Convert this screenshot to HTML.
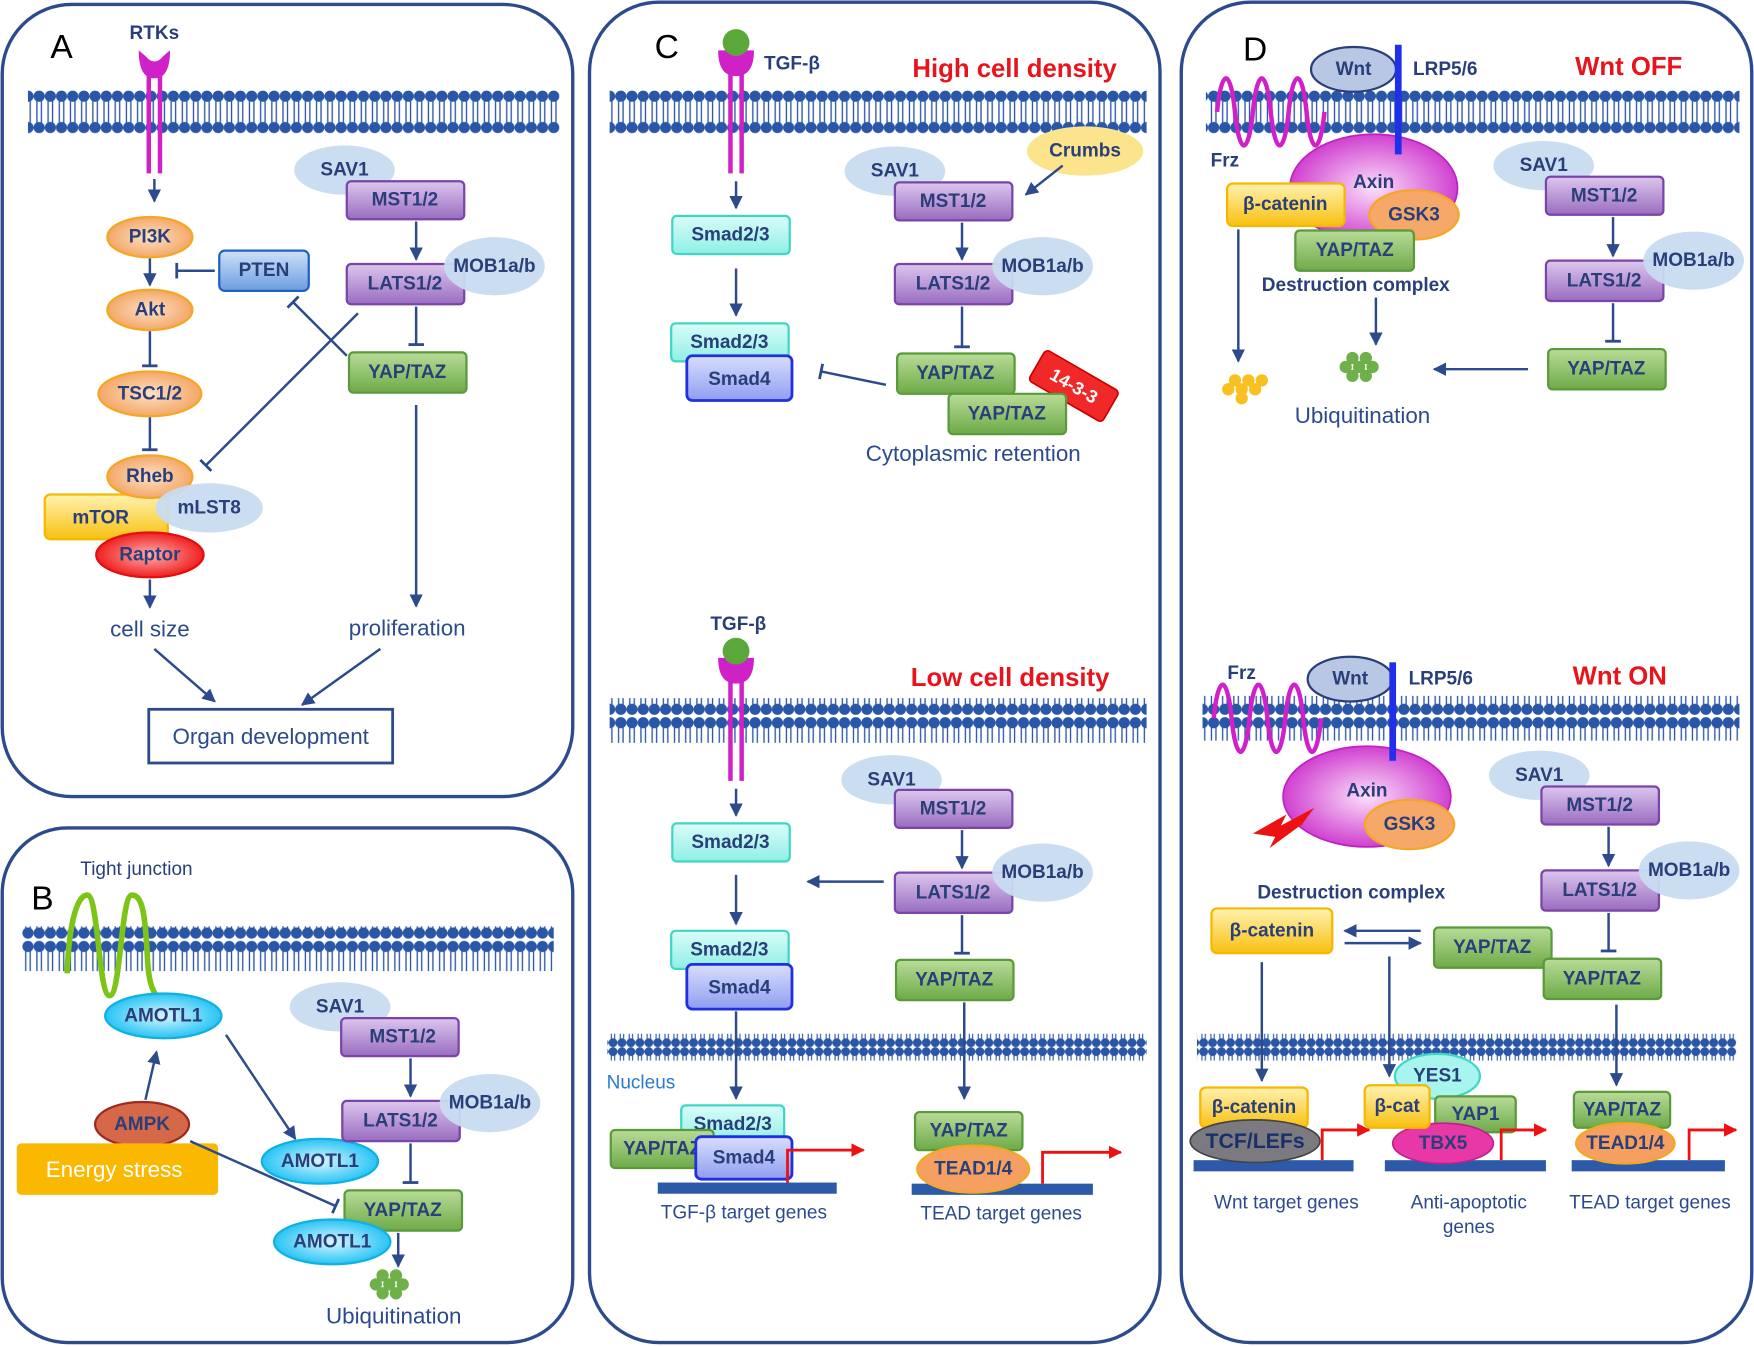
<!DOCTYPE html>
<html><head><meta charset="utf-8"><style>
html,body{margin:0;padding:0;background:#fff}
svg{display:block}
text{font-family:"Liberation Sans",sans-serif}
.b{font-weight:bold;font-size:17px;fill:#2a3f7a;text-anchor:middle;dominant-baseline:central}
.t{font-size:20px;fill:#2c4a8c;text-anchor:middle}
.r{font-size:23px;font-weight:bold;fill:#e8141c;text-anchor:middle}
.pl{font-size:30px;fill:#000;text-anchor:middle}
.ln{stroke:#2c4a8c;stroke-width:2.2;fill:none}
.pn{fill:none;stroke:#2c4a8c;stroke-width:3}
.pu{fill:url(#gpu);stroke:#7a45a8;stroke-width:2}
.gr{fill:url(#ggr);stroke:#5a9a3a;stroke-width:2}
.lb{fill:#c8dbf0;opacity:.95}
.or{fill:url(#gor);stroke:#f5a623;stroke-width:2}
.cy{fill:url(#gcy);stroke:#3fd6c6;stroke-width:2}
.sm4{fill:url(#gsm);stroke:#2030e0;stroke-width:2.5}
.ye{fill:url(#gye);stroke:#f5b800;stroke-width:2}
.re{fill:url(#gre);stroke:#e01010;stroke-width:2}
.mg{fill:url(#gmg);stroke:#c020c0;stroke-width:1.5}
.ac{fill:url(#gac);stroke:#10b0e0;stroke-width:2}
.red{stroke:#ee1111;stroke-width:2.5;fill:none}
.dna{fill:#2d5aa8}
</style></head><body>
<svg width="1754" height="1347" viewBox="0 0 1568 1204" preserveAspectRatio="none" xmlns="http://www.w3.org/2000/svg">
<defs>
<linearGradient id="gpu" x1="0" y1="0" x2="0" y2="1"><stop offset="0" stop-color="#dcc6ee"/><stop offset="1" stop-color="#9a6cc0"/></linearGradient>
<linearGradient id="ggr" x1="0" y1="0" x2="0" y2="1"><stop offset="0" stop-color="#b8dc98"/><stop offset="1" stop-color="#6eaa48"/></linearGradient>
<radialGradient id="gor"><stop offset="0" stop-color="#fde0c6"/><stop offset="1" stop-color="#f3a868"/></radialGradient>
<linearGradient id="gcy" x1="0" y1="0" x2="0" y2="1"><stop offset="0" stop-color="#dafcf8"/><stop offset="1" stop-color="#8ef0e6"/></linearGradient>
<linearGradient id="gsm" x1="0" y1="0" x2="0" y2="1"><stop offset="0" stop-color="#d8defc"/><stop offset="1" stop-color="#8f9ef0"/></linearGradient>
<linearGradient id="gye" x1="0" y1="0" x2="0" y2="1"><stop offset="0" stop-color="#fff2b0"/><stop offset="1" stop-color="#f8c010"/></linearGradient>
<radialGradient id="gre"><stop offset="0" stop-color="#ffb0b0"/><stop offset="1" stop-color="#f02020"/></radialGradient>
<radialGradient id="gmg"><stop offset="0" stop-color="#fbe0fb"/><stop offset="1" stop-color="#d040d0"/></radialGradient>
<radialGradient id="gac"><stop offset="0" stop-color="#d8f6ff"/><stop offset="1" stop-color="#28c4f4"/></radialGradient>
<linearGradient id="gpt" x1="0" y1="0" x2="0" y2="1"><stop offset="0" stop-color="#cfe0f8"/><stop offset="1" stop-color="#6a9ee0"/></linearGradient>
<pattern id="mem" width="10" height="40" patternUnits="userSpaceOnUse">
<line x1="3" y1="8" x2="3" y2="32" stroke="#2a56a8" stroke-width="1.2"/><line x1="7" y1="8" x2="7" y2="32" stroke="#2a56a8" stroke-width="1.2"/>
<circle cx="5" cy="6" r="5" fill="#2a56a8"/><circle cx="5" cy="34" r="5" fill="#2a56a8"/></pattern>
<pattern id="nm" width="8" height="24" patternUnits="userSpaceOnUse">
<line x1="2.5" y1="6" x2="2.5" y2="18" stroke="#2a56a8" stroke-width="1"/><line x1="5.5" y1="6" x2="5.5" y2="18" stroke="#2a56a8" stroke-width="1"/>
<circle cx="4" cy="4" r="4" fill="#2a56a8"/><circle cx="4" cy="20" r="4" fill="#2a56a8"/></pattern>
<marker id="ar" viewBox="0 0 10 10" refX="9" refY="5" markerWidth="12" markerHeight="12" markerUnits="userSpaceOnUse" orient="auto"><path d="M0,0 L10,5 L0,10 z" fill="#2c4a8c"/></marker>
<marker id="ti" viewBox="-2 -7 4 14" refX="0" refY="0" markerWidth="4" markerHeight="14" markerUnits="userSpaceOnUse" orient="auto"><path d="M0,-7 L0,7" stroke="#2c4a8c" stroke-width="2.5"/></marker>
<marker id="rar" viewBox="0 0 10 10" refX="9" refY="5" markerWidth="12" markerHeight="12" markerUnits="userSpaceOnUse" orient="auto"><path d="M0,0 L10,5 L0,10 z" fill="#ee1111"/></marker>
<g id="ubg"><circle cx="0" cy="0" r="5.5" fill="#6fb04a"/><circle cx="12" cy="0" r="5.5" fill="#6fb04a"/><circle cx="24" cy="0" r="5.5" fill="#6fb04a"/><circle cx="6" cy="-8" r="5.5" fill="#6fb04a"/><circle cx="18" cy="-8" r="5.5" fill="#6fb04a"/><circle cx="6" cy="8" r="5.5" fill="#6fb04a"/><circle cx="18" cy="8" r="5.5" fill="#6fb04a"/></g>
<g id="uby"><circle cx="0" cy="0" r="5.5" fill="#f8c020"/><circle cx="12" cy="0" r="5.5" fill="#f8c020"/><circle cx="24" cy="0" r="5.5" fill="#f8c020"/><circle cx="6" cy="-8" r="5.5" fill="#f8c020"/><circle cx="18" cy="-8" r="5.5" fill="#f8c020"/><circle cx="30" cy="-8" r="5.5" fill="#f8c020"/><circle cx="12" cy="8" r="5.5" fill="#f8c020"/></g>
</defs>

<!-- Panels -->
<rect class="pn" x="2" y="4" width="510" height="708" rx="62"/>
<rect class="pn" x="2" y="740" width="510" height="460" rx="58"/>
<rect class="pn" x="527" y="2" width="510" height="1198" rx="62"/>
<rect class="pn" x="1056" y="2" width="510" height="1198" rx="62"/>

<!-- ============ A ============ -->
<text class="pl" x="55" y="52">A</text>
<text x="138" y="35" style="font-size:17px;font-weight:bold;fill:#2a3f7a;text-anchor:middle">RTKs</text>
<rect x="25" y="80" width="475" height="40" fill="url(#mem)"/>
<line x1="133" y1="58" x2="133" y2="155" stroke="#d020c8" stroke-width="4"/><line x1="143" y1="58" x2="143" y2="155" stroke="#d020c8" stroke-width="4"/>
<path d="M124,45 Q124,70 138,70 Q152,70 152,45 L146,50 Q138,60 130,50 z" fill="#d020c8"/>
<line class="ln" x1="138" y1="160" x2="138" y2="180" marker-end="url(#ar)"/>
<ellipse class="or" cx="134" cy="212" rx="38" ry="18"/><text class="b" x="134" y="212">PI3K</text>
<line class="ln" x1="134" y1="231" x2="134" y2="255" marker-end="url(#ar)"/>
<ellipse class="or" cx="134" cy="277" rx="38" ry="18"/><text class="b" x="134" y="277">Akt</text>
<line class="ln" x1="134" y1="296" x2="134" y2="327" marker-end="url(#ti)"/>
<ellipse class="or" cx="134" cy="352" rx="46" ry="20"/><text class="b" x="134" y="352">TSC1/2</text>
<line class="ln" x1="134" y1="373" x2="134" y2="402" marker-end="url(#ti)"/>
<rect class="ye" x="40" y="442" width="110" height="40" rx="5"/><text class="b" x="90" y="463">mTOR</text>
<ellipse class="or" cx="134" cy="426" rx="38" ry="19"/><text class="b" x="134" y="426">Rheb</text>
<ellipse class="lb" cx="187" cy="454" rx="48" ry="22"/><text class="b" x="187" y="454">mLST8</text>
<ellipse class="re" cx="134" cy="496" rx="48" ry="20"/><text class="b" x="134" y="496">Raptor</text>
<line class="ln" x1="134" y1="518" x2="134" y2="543" marker-end="url(#ar)"/>
<rect x="196" y="224" width="80" height="36" rx="5" fill="url(#gpt)" stroke="#2060c0" stroke-width="2"/><text class="b" x="236" y="242">PTEN</text>
<line class="ln" x1="192" y1="242" x2="158" y2="242" marker-end="url(#ti)"/>
<ellipse class="lb" cx="308" cy="152" rx="45" ry="22"/>
<rect class="pu" x="310" y="162" width="105" height="34" rx="4"/><text class="b" x="308" y="152">SAV1</text><text class="b" x="362" y="179">MST1/2</text>
<line class="ln" x1="372" y1="198" x2="372" y2="232" marker-end="url(#ar)"/>
<rect class="pu" x="310" y="236" width="105" height="36" rx="4"/>
<ellipse class="lb" cx="442" cy="238" rx="45" ry="26"/><text class="b" x="362" y="254">LATS1/2</text><text class="b" x="442" y="238">MOB1a/b</text>
<line class="ln" x1="372" y1="274" x2="372" y2="308" marker-end="url(#ti)"/>
<rect class="gr" x="312" y="315" width="105" height="36" rx="4"/><text class="b" x="364" y="333">YAP/TAZ</text>
<line class="ln" x1="310" y1="318" x2="262" y2="270" marker-end="url(#ti)"/>
<line class="ln" x1="320" y1="280" x2="184" y2="416" marker-end="url(#ti)"/>
<line class="ln" x1="372" y1="362" x2="372" y2="542" marker-end="url(#ar)"/>
<text class="t" x="134" y="569">cell size</text>
<text class="t" x="364" y="568">proliferation</text>
<line class="ln" x1="138" y1="580" x2="192" y2="627" marker-end="url(#ar)"/>
<line class="ln" x1="340" y1="580" x2="270" y2="630" marker-end="url(#ar)"/>
<rect x="133" y="634" width="218" height="48" fill="#fff" stroke="#2c4a8c" stroke-width="2.5"/>
<text class="t" x="242" y="665">Organ development</text>

<!-- ============ B ============ -->
<text class="pl" x="38" y="813">B</text>
<text x="122" y="782" style="font-size:17px;fill:#2a3f7a;text-anchor:middle">Tight junction</text>
<rect x="20" y="828" width="475" height="40" fill="url(#mem)"/>
<path d="M60,870 C62,820 70,800 78,800 C88,800 88,890 98,890 C108,890 108,800 118,800 C128,800 130,820 132,860 C134,890 142,895 150,890" stroke="#7dc418" stroke-width="5" fill="none"/>
<ellipse class="ac" cx="146" cy="908" rx="52" ry="20"/><text class="b" x="146" y="908">AMOTL1</text>
<ellipse fill="#d6684a" stroke="#a02820" stroke-width="2" cx="127" cy="1005" rx="42" ry="20"/><text class="b" x="127" y="1005">AMPK</text>
<line class="ln" x1="130" y1="983" x2="140" y2="940" marker-end="url(#ar)"/>
<rect x="15" y="1022" width="180" height="46" rx="4" fill="#fbb800"/>
<text x="102" y="1052" style="font-size:20px;fill:#fff;text-anchor:middle">Energy stress</text>
<line class="ln" x1="202" y1="925" x2="264" y2="1018" marker-end="url(#ar)"/>
<line class="ln" x1="170" y1="1020" x2="300" y2="1078" marker-end="url(#ti)"/>
<ellipse class="ac" cx="286" cy="1038" rx="52" ry="20"/><text class="b" x="286" y="1038">AMOTL1</text>
<ellipse class="lb" cx="304" cy="900" rx="45" ry="22"/>
<rect class="pu" x="305" y="910" width="105" height="34" rx="4"/><text class="b" x="304" y="900">SAV1</text><text class="b" x="360" y="927">MST1/2</text>
<line class="ln" x1="367" y1="946" x2="367" y2="980" marker-end="url(#ar)"/>
<rect class="pu" x="306" y="984" width="105" height="36" rx="4"/>
<ellipse class="lb" cx="438" cy="986" rx="45" ry="26"/><text class="b" x="358" y="1002">LATS1/2</text><text class="b" x="438" y="986">MOB1a/b</text>
<line class="ln" x1="367" y1="1022" x2="367" y2="1057" marker-end="url(#ti)"/>
<rect class="gr" x="308" y="1064" width="105" height="36" rx="4"/><text class="b" x="360" y="1082">YAP/TAZ</text>
<ellipse class="ac" cx="297" cy="1110" rx="52" ry="20"/><text class="b" x="297" y="1110">AMOTL1</text>
<line class="ln" x1="356" y1="1102" x2="356" y2="1132" marker-end="url(#ar)"/>
<use href="#ubg" x="336" y="1148"/>
<text class="t" x="352" y="1183">Ubiquitination</text>

<!-- ============ C top ============ -->
<text class="pl" x="596" y="52">C</text>
<rect x="545" y="80" width="480" height="40" fill="url(#mem)"/>
<line x1="653" y1="60" x2="653" y2="155" stroke="#d020c8" stroke-width="4"/><line x1="663" y1="60" x2="663" y2="155" stroke="#d020c8" stroke-width="4"/>
<path d="M642,45 Q642,68 658,68 Q674,68 674,45 z" fill="#d020c8"/>
<circle cx="658" cy="38" r="12" fill="#5aa83a"/>
<text x="708" y="62" style="font-size:17px;font-weight:bold;fill:#2a3f7a;text-anchor:middle">TGF-β</text>
<text class="r" x="907" y="69">High cell density</text>
<ellipse cx="970" cy="135" rx="52" ry="22" fill="#fbe48c"/><text class="b" x="970" y="135">Crumbs</text>
<line class="ln" x1="658" y1="162" x2="658" y2="186" marker-end="url(#ar)"/>
<rect class="cy" x="601" y="193" width="105" height="34" rx="4"/><text class="b" x="653" y="210">Smad2/3</text>
<line class="ln" x1="658" y1="240" x2="658" y2="282" marker-end="url(#ar)"/>
<rect class="cy" x="600" y="289" width="105" height="34" rx="4"/><text class="b" x="652" y="306">Smad2/3</text>
<rect class="sm4" x="614" y="318" width="94" height="40" rx="5"/><text class="b" x="661" y="339">Smad4</text>
<line class="ln" x1="792" y1="344" x2="734" y2="332" marker-end="url(#ti)"/>
<ellipse class="lb" cx="800" cy="153" rx="45" ry="22"/>
<rect class="pu" x="800" y="163" width="105" height="34" rx="4"/><text class="b" x="800" y="153">SAV1</text><text class="b" x="852" y="180">MST1/2</text>
<line class="ln" x1="950" y1="148" x2="917" y2="174" marker-end="url(#ar)"/>
<line class="ln" x1="860" y1="199" x2="860" y2="232" marker-end="url(#ar)"/>
<rect class="pu" x="800" y="236" width="105" height="36" rx="4"/>
<ellipse class="lb" cx="932" cy="238" rx="45" ry="26"/><text class="b" x="852" y="254">LATS1/2</text><text class="b" x="932" y="238">MOB1a/b</text>
<line class="ln" x1="860" y1="274" x2="860" y2="310" marker-end="url(#ti)"/>
<rect class="gr" x="802" y="316" width="105" height="36" rx="4"/><text class="b" x="854" y="334">YAP/TAZ</text>
<g transform="translate(960,345) rotate(30)"><rect x="-38" y="-16" width="76" height="32" rx="4" fill="#f02828" stroke="#c00" stroke-width="1.5"/><text class="b" x="0" y="0" style="fill:#fff;font-size:16px">14-3-3</text></g>
<rect class="gr" x="848" y="352" width="105" height="36" rx="4"/><text class="b" x="900" y="370">YAP/TAZ</text>
<text class="t" x="870" y="412">Cytoplasmic retention</text>

<!-- ============ C bottom ============ -->
<text x="660" y="563" style="font-size:17px;font-weight:bold;fill:#2a3f7a;text-anchor:middle">TGF-β</text>
<text class="r" x="903" y="613">Low cell density</text>
<rect x="545" y="624" width="480" height="40" fill="url(#mem)"/>
<line x1="653" y1="600" x2="653" y2="698" stroke="#d020c8" stroke-width="4"/><line x1="663" y1="600" x2="663" y2="698" stroke="#d020c8" stroke-width="4"/>
<path d="M642,588 Q642,611 658,611 Q674,611 674,588 z" fill="#d020c8"/>
<circle cx="658" cy="582" r="12" fill="#5aa83a"/>
<line class="ln" x1="658" y1="705" x2="658" y2="729" marker-end="url(#ar)"/>
<rect class="cy" x="601" y="736" width="105" height="34" rx="4"/><text class="b" x="653" y="753">Smad2/3</text>
<line class="ln" x1="658" y1="782" x2="658" y2="826" marker-end="url(#ar)"/>
<line class="ln" x1="790" y1="788" x2="722" y2="788" marker-end="url(#ar)"/>
<rect class="cy" x="600" y="832" width="105" height="34" rx="4"/><text class="b" x="652" y="849">Smad2/3</text>
<rect class="sm4" x="614" y="862" width="94" height="40" rx="5"/><text class="b" x="661" y="883">Smad4</text>
<ellipse class="lb" cx="797" cy="697" rx="45" ry="22"/>
<rect class="pu" x="800" y="706" width="105" height="34" rx="4"/><text class="b" x="797" y="697">SAV1</text><text class="b" x="852" y="723">MST1/2</text>
<line class="ln" x1="860" y1="742" x2="860" y2="776" marker-end="url(#ar)"/>
<rect class="pu" x="800" y="780" width="105" height="36" rx="4"/>
<ellipse class="lb" cx="932" cy="780" rx="45" ry="26"/><text class="b" x="852" y="798">LATS1/2</text><text class="b" x="932" y="780">MOB1a/b</text>
<line class="ln" x1="860" y1="818" x2="860" y2="852" marker-end="url(#ti)"/>
<rect class="gr" x="801" y="858" width="105" height="36" rx="4"/><text class="b" x="853" y="876">YAP/TAZ</text>
<rect x="543" y="924" width="482" height="24" fill="url(#nm)"/>
<text x="573" y="973" style="font-size:17px;fill:#2a7ad0;text-anchor:middle">Nucleus</text>
<line class="ln" x1="658" y1="904" x2="658" y2="982" marker-end="url(#ar)"/>
<line class="ln" x1="862" y1="896" x2="862" y2="982" marker-end="url(#ar)"/>
<rect class="dna" x="588" y="1057" width="160" height="10"/>
<rect class="cy" x="609" y="988" width="92" height="34" rx="4"/><text class="b" x="655" y="1005">Smad2/3</text>
<rect class="gr" x="546" y="1010" width="92" height="34" rx="4"/><text class="b" x="592" y="1027">YAP/TAZ</text>
<rect class="sm4" x="622" y="1016" width="86" height="38" rx="5"/><text class="b" x="665" y="1035">Smad4</text>
<path class="red" d="M704,1057 L704,1028 L772,1028" marker-end="url(#rar)"/>
<text x="665" y="1089" style="font-size:17px;fill:#2c4a8c;text-anchor:middle">TGF-β target genes</text>
<rect class="dna" x="815" y="1058" width="162" height="10"/>
<rect class="gr" x="818" y="994" width="96" height="34" rx="4"/><text class="b" x="866" y="1011">YAP/TAZ</text>
<ellipse class="or" cx="870" cy="1045" rx="50" ry="21" style="fill:#f5a060"/><text class="b" x="870" y="1045">TEAD1/4</text>
<path class="red" d="M932,1058 L932,1030 L1002,1030" marker-end="url(#rar)"/>
<text x="895" y="1090" style="font-size:17px;fill:#2c4a8c;text-anchor:middle">TEAD target genes</text>

<!-- ============ D top ============ -->
<text class="pl" x="1122" y="54">D</text>
<text class="r" x="1456" y="67">Wnt OFF</text>
<rect x="1078" y="80" width="477" height="40" fill="url(#mem)"/>
<path d="M1088,100 C1092,60 1100,60 1104,100 C1108,140 1116,140 1120,100 C1124,60 1132,60 1136,100 C1140,140 1148,140 1152,100 C1156,60 1164,60 1168,100 C1172,140 1180,140 1184,100" stroke="#d020c8" stroke-width="4" fill="none"/>
<ellipse cx="1210" cy="62" rx="38" ry="20" fill="#b8c8e4" stroke="#2a3f7a" stroke-width="2"/><text class="b" x="1210" y="62">Wnt</text>
<text x="1292" y="67" style="font-size:17px;font-weight:bold;fill:#2a3f7a;text-anchor:middle">LRP5/6</text>
<text x="1095" y="149" style="font-size:17px;font-weight:bold;fill:#2a3f7a;text-anchor:middle">Frz</text>
<ellipse class="mg" cx="1228" cy="168" rx="75" ry="48"/><text class="b" x="1228" y="163">Axin</text>
<rect x="1247" y="40" width="6" height="98" fill="#2030e8"/>
<ellipse class="or" cx="1264" cy="192" rx="40" ry="22" style="fill:#f5a868"/><text class="b" x="1264" y="192">GSK3</text>
<rect class="ye" x="1097" y="164" width="105" height="38" rx="5"/><text class="b" x="1149" y="183">β-catenin</text>
<rect class="gr" x="1158" y="206" width="106" height="36" rx="4"/><text class="b" x="1211" y="224">YAP/TAZ</text>
<text x="1212" y="260" style="font-size:17px;font-weight:bold;fill:#2a3f7a;text-anchor:middle">Destruction complex</text>
<line class="ln" x1="1107" y1="205" x2="1107" y2="323" marker-end="url(#ar)"/>
<line class="ln" x1="1230" y1="266" x2="1230" y2="308" marker-end="url(#ar)"/>
<use href="#uby" x="1098" y="348"/>
<use href="#ubg" x="1203" y="328"/>
<line class="ln" x1="1366" y1="330" x2="1282" y2="330" marker-end="url(#ar)"/>
<text class="t" x="1218" y="378">Ubiquitination</text>
<ellipse class="lb" cx="1380" cy="148" rx="45" ry="22"/>
<rect class="pu" x="1382" y="158" width="105" height="34" rx="4"/><text class="b" x="1380" y="148">SAV1</text><text class="b" x="1434" y="175">MST1/2</text>
<line class="ln" x1="1442" y1="194" x2="1442" y2="229" marker-end="url(#ar)"/>
<rect class="pu" x="1382" y="233" width="105" height="36" rx="4"/>
<ellipse class="lb" cx="1514" cy="233" rx="45" ry="26"/><text class="b" x="1434" y="251">LATS1/2</text><text class="b" x="1514" y="233">MOB1a/b</text>
<line class="ln" x1="1442" y1="271" x2="1442" y2="305" marker-end="url(#ti)"/>
<rect class="gr" x="1384" y="312" width="105" height="36" rx="4"/><text class="b" x="1436" y="330">YAP/TAZ</text>

<!-- ============ D bottom ============ -->
<text class="r" x="1448" y="612">Wnt ON</text>
<rect x="1075" y="622" width="480" height="40" fill="url(#mem)"/>
<path d="M1085,642 C1089,602 1097,602 1101,642 C1105,682 1113,682 1117,642 C1121,602 1129,602 1133,642 C1137,682 1145,682 1149,642 C1153,602 1161,602 1165,642 C1169,682 1177,682 1181,642" stroke="#d020c8" stroke-width="4" fill="none"/>
<text x="1110" y="607" style="font-size:17px;font-weight:bold;fill:#2a3f7a;text-anchor:middle">Frz</text>
<ellipse cx="1207" cy="607" rx="38" ry="20" fill="#b8c8e4" stroke="#2a3f7a" stroke-width="2"/><text class="b" x="1207" y="607">Wnt</text>
<text x="1288" y="612" style="font-size:17px;font-weight:bold;fill:#2a3f7a;text-anchor:middle">LRP5/6</text>
<ellipse class="mg" cx="1222" cy="712" rx="75" ry="45"/><text class="b" x="1222" y="707">Axin</text>
<rect x="1242" y="592" width="6" height="88" fill="#2030e8"/>
<ellipse class="or" cx="1260" cy="737" rx="40" ry="22" style="fill:#f5a868"/><text class="b" x="1260" y="737">GSK3</text>
<path d="M1120,745 L1150,728 L1145,738 L1175,722 L1160,742 L1165,736 L1135,758 L1140,748 z" fill="#ee1111"/>
<ellipse class="lb" cx="1376" cy="693" rx="45" ry="22"/>
<rect class="pu" x="1378" y="703" width="105" height="34" rx="4"/><text class="b" x="1376" y="693">SAV1</text><text class="b" x="1430" y="720">MST1/2</text>
<line class="ln" x1="1438" y1="739" x2="1438" y2="774" marker-end="url(#ar)"/>
<rect class="pu" x="1378" y="778" width="105" height="36" rx="4"/>
<ellipse class="lb" cx="1510" cy="778" rx="45" ry="26"/><text class="b" x="1430" y="796">LATS1/2</text><text class="b" x="1510" y="778">MOB1a/b</text>
<line class="ln" x1="1438" y1="816" x2="1438" y2="850" marker-end="url(#ti)"/>
<rect class="gr" x="1282" y="829" width="105" height="36" rx="4"/><text class="b" x="1334" y="847">YAP/TAZ</text>
<rect class="gr" x="1380" y="857" width="105" height="36" rx="4"/><text class="b" x="1432" y="875">YAP/TAZ</text>
<text x="1208" y="803" style="font-size:17px;font-weight:bold;fill:#2a3f7a;text-anchor:middle">Destruction complex</text>
<rect class="ye" x="1083" y="812" width="108" height="40" rx="5"/><text class="b" x="1137" y="832">β-catenin</text>
<line class="ln" x1="1270" y1="832" x2="1202" y2="832" marker-end="url(#ar)"/>
<line class="ln" x1="1202" y1="843" x2="1270" y2="843" marker-end="url(#ar)"/>
<rect x="1070" y="924" width="482" height="24" fill="url(#nm)"/>
<line class="ln" x1="1128" y1="860" x2="1128" y2="966" marker-end="url(#ar)"/>
<line class="ln" x1="1242" y1="855" x2="1242" y2="962" marker-end="url(#ar)"/>
<line class="ln" x1="1445" y1="898" x2="1445" y2="970" marker-end="url(#ar)"/>
<rect class="dna" x="1067" y="1037" width="143" height="10"/>
<rect class="ye" x="1073" y="972" width="96" height="36" rx="5"/><text class="b" x="1121" y="990">β-catenin</text>
<ellipse cx="1122" cy="1020" rx="58" ry="19" fill="#7a7a80" stroke="#444" stroke-width="1.5"/><text class="b" x="1122" y="1020" style="fill:#1a2f6a;font-size:19px">TCF/LEFs</text>
<path class="red" d="M1182,1037 L1182,1010 L1224,1010" marker-end="url(#rar)"/>
<text x="1150" y="1080" style="font-size:17px;fill:#2c4a8c;text-anchor:middle">Wnt target genes</text>
<rect class="dna" x="1238" y="1037" width="144" height="10"/>
<ellipse class="cy" cx="1285" cy="962" rx="38" ry="20" style="fill:#a8f4ee"/><text class="b" x="1285" y="962">YES1</text>
<rect class="gr" x="1283" y="980" width="72" height="32" rx="4"/><text class="b" x="1319" y="996">YAP1</text>
<ellipse cx="1290" cy="1022" rx="45" ry="18" fill="#e838a8" stroke="#c02090" stroke-width="1.5"/><text class="b" x="1290" y="1022">TBX5</text>
<rect class="ye" x="1220" y="970" width="58" height="38" rx="5"/><text class="b" x="1249" y="989">β-cat</text>
<path class="red" d="M1342,1037 L1342,1010 L1382,1010" marker-end="url(#rar)"/>
<text x="1313" y="1080" style="font-size:17px;fill:#2c4a8c;text-anchor:middle">Anti-apoptotic</text>
<text x="1313" y="1102" style="font-size:17px;fill:#2c4a8c;text-anchor:middle">genes</text>
<rect class="dna" x="1405" y="1037" width="137" height="10"/>
<rect class="gr" x="1407" y="976" width="86" height="32" rx="4"/><text class="b" x="1450" y="992">YAP/TAZ</text>
<ellipse cx="1453" cy="1022" rx="44" ry="18" fill="#f5a060" stroke="#f5a623" stroke-width="2"/><text class="b" x="1453" y="1022">TEAD1/4</text>
<path class="red" d="M1510,1037 L1510,1010 L1552,1010" marker-end="url(#rar)"/>
<text x="1475" y="1080" style="font-size:17px;fill:#2c4a8c;text-anchor:middle">TEAD target genes</text>
</svg>
</body></html>
